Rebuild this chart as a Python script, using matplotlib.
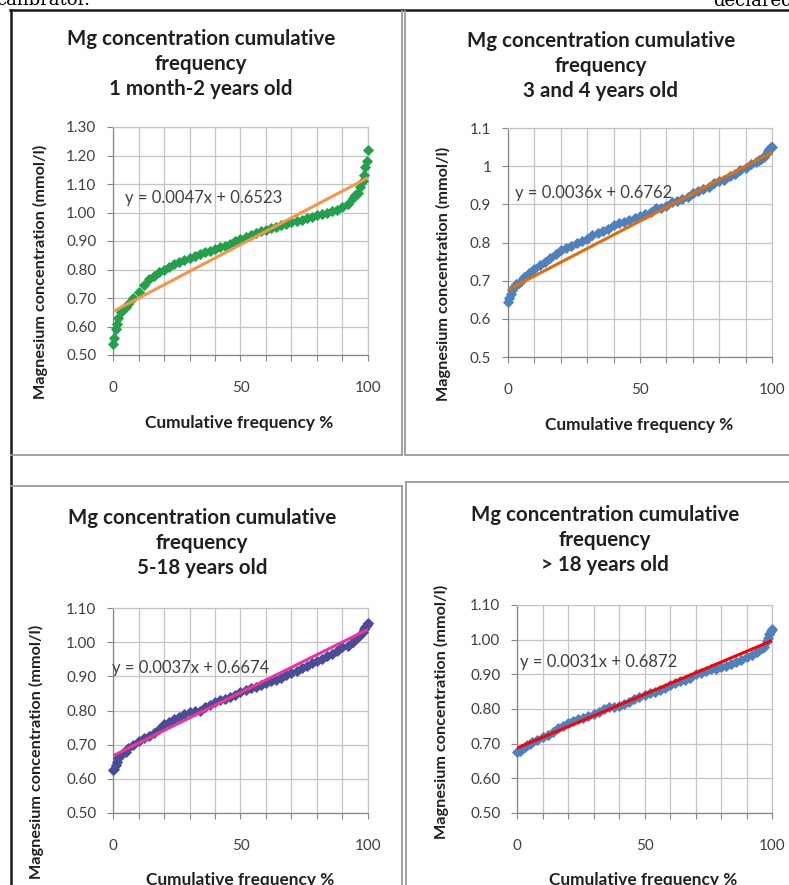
import numpy as np
import matplotlib
matplotlib.use("Agg")
import matplotlib.pyplot as plt
from matplotlib.lines import Line2D

plt.rcParams["font.family"] = ["Lato", "DejaVu Sans"]

# %% data
# cumulative frequency (%) positions shared by all four series
cum_freq = [0, 0.5, 1, 1.5, 2, 3, 4, 5, 6, 8, 10, 12, 14, 16, 18, 20, 22, 24, 26, 28,
            30, 32, 34, 36, 38, 40, 42, 44, 46, 48, 50, 52, 54, 56, 58, 60, 62, 64, 66, 68,
            70, 72, 74, 76, 78, 80, 82, 84, 86, 88, 90, 92, 94, 95, 96, 97, 98, 98.5, 99, 99.5, 100]

mg_1m_2y = [0.54, 0.56, 0.59, 0.61, 0.63, 0.65, 0.66, 0.67, 0.68, 0.70, 0.72, 0.745, 0.765, 0.778, 0.79, 0.80, 0.81, 0.82, 0.826, 0.832,
            0.84, 0.847, 0.853, 0.86, 0.866, 0.872, 0.878, 0.884, 0.89, 0.90, 0.908, 0.915, 0.92, 0.928, 0.935, 0.94, 0.945, 0.95, 0.955, 0.96,
            0.965, 0.97, 0.975, 0.98, 0.985, 0.99, 0.995, 1.00, 1.005, 1.01, 1.02, 1.03, 1.05, 1.06, 1.07, 1.09, 1.11, 1.13, 1.16, 1.18, 1.22]

mg_3_4y = [0.645, 0.655, 0.665, 0.675, 0.68, 0.69, 0.695, 0.70, 0.71, 0.72, 0.73, 0.74, 0.75, 0.76, 0.77, 0.78, 0.785, 0.79, 0.80, 0.805,
           0.81, 0.82, 0.825, 0.83, 0.835, 0.845, 0.85, 0.855, 0.86, 0.865, 0.87, 0.875, 0.88, 0.89, 0.89, 0.895, 0.905, 0.91, 0.915, 0.92,
           0.93, 0.935, 0.94, 0.945, 0.955, 0.96, 0.965, 0.975, 0.98, 0.99, 0.995, 1.005, 1.01, 1.015, 1.02, 1.025, 1.035, 1.04, 1.045, 1.05, 1.05]

mg_5_18y = [0.625, 0.63, 0.64, 0.65, 0.66, 0.67, 0.675, 0.68, 0.69, 0.70, 0.71, 0.72, 0.725, 0.735, 0.745, 0.76, 0.765, 0.775, 0.78, 0.79,
            0.795, 0.80, 0.80, 0.81, 0.815, 0.825, 0.83, 0.835, 0.84, 0.845, 0.855, 0.86, 0.865, 0.87, 0.875, 0.88, 0.885, 0.89, 0.895, 0.905,
            0.91, 0.915, 0.925, 0.93, 0.94, 0.945, 0.95, 0.96, 0.965, 0.975, 0.985, 0.99, 1.00, 1.01, 1.015, 1.02, 1.03, 1.04, 1.045, 1.05, 1.055]

mg_over_18y = [0.675, 0.68, 0.68, 0.685, 0.685, 0.69, 0.695, 0.70, 0.705, 0.71, 0.72, 0.725, 0.735, 0.745, 0.75, 0.76, 0.765, 0.77, 0.775, 0.78,
               0.785, 0.79, 0.80, 0.805, 0.805, 0.81, 0.815, 0.82, 0.83, 0.835, 0.84, 0.845, 0.85, 0.855, 0.86, 0.87, 0.875, 0.88, 0.885, 0.89,
               0.90, 0.905, 0.91, 0.915, 0.915, 0.92, 0.925, 0.93, 0.935, 0.94, 0.95, 0.955, 0.965, 0.97, 0.975, 0.98, 0.995, 1.005, 1.015, 1.025, 1.03]

# Excel linear trendlines (slope, intercept)
trend_slopes = [0.0047, 0.0036, 0.0037, 0.0031]
trend_intercepts = [0.6523, 0.6762, 0.6674, 0.6872]
trend_labels = ["y = 0.0047x + 0.6523", "y = 0.0036x + 0.6762",
                "y = 0.0037x + 0.6674", "y = 0.0031x + 0.6872"]

age_groups = ["1 month-2 years old", "3 and 4 years old", "5-18 years old", "> 18 years old"]
series = [mg_1m_2y, mg_3_4y, mg_5_18y, mg_over_18y]

# %% styling per panel
W, H = 789, 885
marker_colors = ["#22A04B", "#4F81BD", "#4A4C98", "#4F81BD"]
line_colors = ["#F79646", "#E46C0A", "#F0359A", "#FF0000"]
ylims = [(0.5, 1.3), (0.5, 1.1), (0.5, 1.1), (0.5, 1.1)]
ytick_fmt = ["{:.2f}", "{:g}", "{:.2f}", "{:.2f}"]
# axes boxes in pixels: left, top, right, bottom
boxes = [(113, 127, 368, 355), (508, 128, 772, 357), (113, 608, 368, 813), (517, 605, 772, 813)]
title_pos = [(0.345, 1.276), (0.352, 1.271), (0.349, 1.317), (0.345, 1.3125)]
xlabel_pos = [(0.494, -0.298), (0.496, -0.297), (0.498, -0.327), (0.494, -0.322)]
ylabel_pos = [(-0.286, 0.364), (-0.246, 0.362), (-0.302, 0.298), (-0.298, 0.486)]
eq_pos = [(4.7, 1.05), (2.7, 0.929), (-0.5, 0.924), (1.0, 0.937)]

fig = plt.figure(figsize=(W / 100, H / 100), dpi=100)

for i in range(4):
    l, t, r, b = boxes[i]
    ax = fig.add_axes([l / W, 1 - b / H, (r - l) / W, (b - t) / H])
    ax.plot(cum_freq, series[i], ls="none", marker="D", ms=5.4, mfc=marker_colors[i],
            mec=marker_colors[i], mew=0.6, clip_on=False, zorder=3)
    xx = np.array([0, 100])
    ax.plot(xx, np.polyval([trend_slopes[i], trend_intercepts[i]], xx),
            color=line_colors[i], lw=2.2, solid_capstyle="butt", zorder=4)

    y0, y1 = ylims[i]
    ax.set_xlim(0, 100)
    ax.set_ylim(y0, y1)
    yt = np.round(np.arange(y0, y1 + 0.001, 0.1), 2)
    ax.set_yticks(yt)
    ax.set_yticklabels([ytick_fmt[i].format(v) for v in yt])
    ax.set_xticks([0, 50, 100])
    ax.set_xticks(np.arange(0, 101, 10), minor=True)
    ax.grid(True, which="both", color="#C4C4C4", lw=0.9)
    ax.set_axisbelow(True)
    ax.tick_params(axis="both", which="both", direction="out", length=4, width=0.8,
                   color="#868686", labelcolor="#404040", labelsize=11)
    ax.tick_params(axis="x", which="major", pad=15)
    ax.tick_params(axis="y", which="major", pad=8)
    ax.tick_params(axis="y", which="minor", length=0)
    for side in ["top", "right"]:
        ax.spines[side].set_color("#C4C4C4")
        ax.spines[side].set_linewidth(0.9)
    for side in ["left", "bottom"]:
        ax.spines[side].set_color("#868686")
        ax.spines[side].set_linewidth(0.9)

    ax.text(eq_pos[i][0], eq_pos[i][1], trend_labels[i], fontsize=12,
            color="#404040", va="center", ha="left", zorder=5)

    ax.text(title_pos[i][0], title_pos[i][1],
            "Mg concentration cumulative\nfrequency\n" + age_groups[i],
            transform=ax.transAxes, ha="center", va="center", fontsize=14.8,
            fontweight="bold", linespacing=1.3, color="#202020")

    ax.set_xlabel("Cumulative frequency %", fontsize=12.4, fontweight="bold", color="#202020")
    ax.xaxis.set_label_coords(*xlabel_pos[i])
    ax.xaxis.label.set_va("center")
    ax.set_ylabel("Magnesium concentration (mmol/l)", fontsize=11.7, fontweight="bold", color="#202020")
    ax.yaxis.set_label_coords(*ylabel_pos[i])
    ax.yaxis.label.set_va("center")

# %% page frame and panel borders (pixel coords)
def seg(x0, y0, x1, y1, color="#9A9A9A", lw=1.3):
    fig.add_artist(Line2D([x0 / W, x1 / W], [1 - y0 / H, 1 - y1 / H],
                          color=color, lw=lw, transform=fig.transFigure))

seg(10, 10, W, 10, color="#1A1A1A", lw=1.8)
seg(10.5, 10, 10.5, H, color="#1A1A1A", lw=1.8)
seg(402, 11, 402, 455)
seg(11, 455, 402, 455)
seg(405, 11, 405, 455)
seg(405, 455, W, 455)
seg(11, 486, 402, 486)
seg(402, 486, 402, H)
seg(406, 482, W, 482)
seg(406, 482, 406, H)

# cut-off body text from the page above the figure
fig.text(-0.005, 1 - 5 / H, "calibrator.", family="DejaVu Serif", fontsize=13, va="baseline", ha="left")
fig.text(1.005, 1 - 6 / H, "declared", family="DejaVu Serif", fontsize=13, va="baseline", ha="right")

fig.savefig("out.png", dpi=100)
